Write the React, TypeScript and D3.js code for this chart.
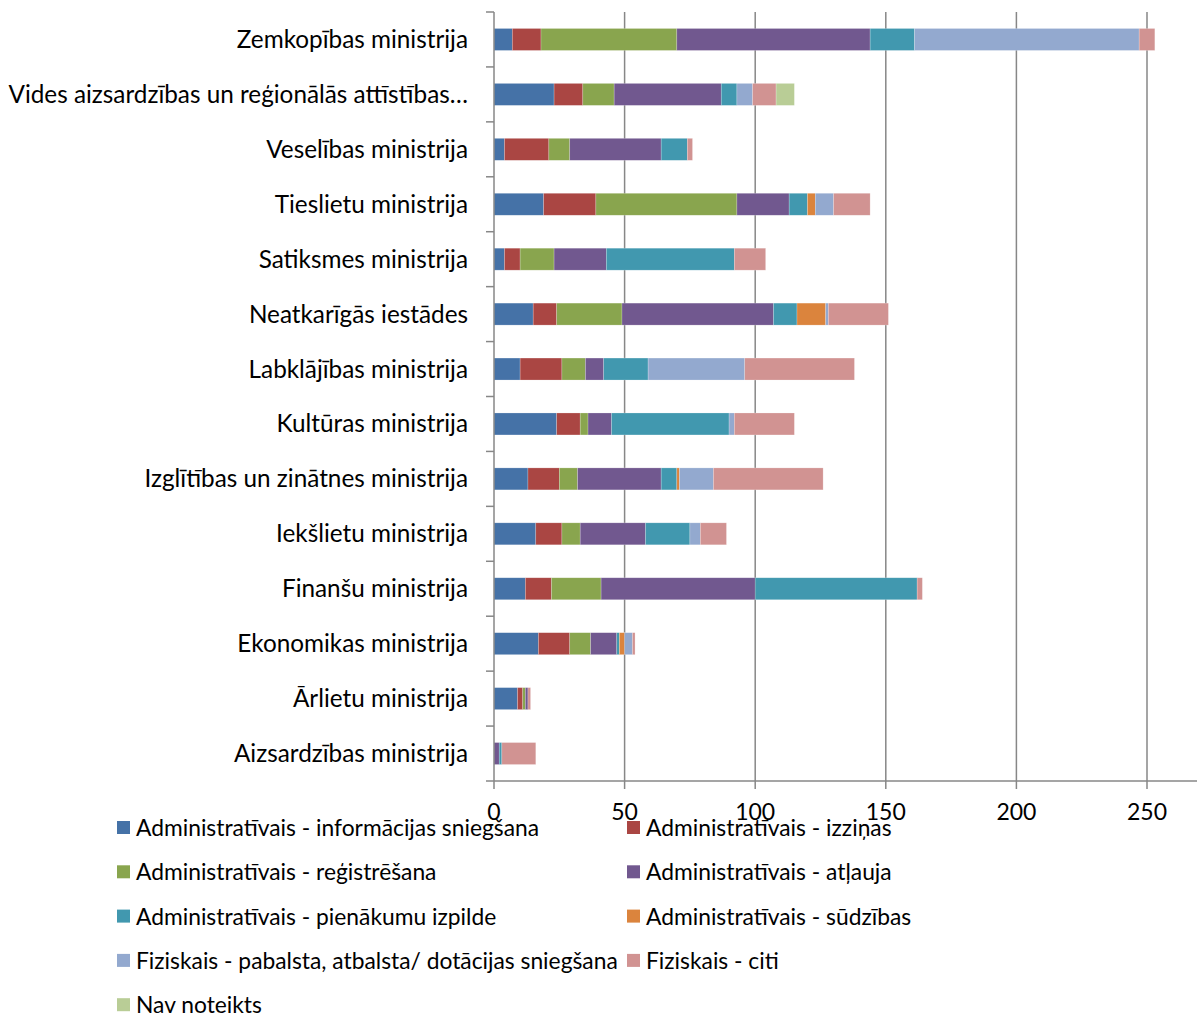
import { useEffect, useRef } from 'react';
import * as d3 from 'd3';

// Ministries, top to bottom as drawn
const CATEGORIES = [
  'Zemkopības ministrija',
  'Vides aizsardzības un reģionālās attīstības…',
  'Veselības ministrija',
  'Tieslietu ministrija',
  'Satiksmes ministrija',
  'Neatkarīgās iestādes',
  'Labklājības ministrija',
  'Kultūras ministrija',
  'Izglītības un zinātnes ministrija',
  'Iekšlietu ministrija',
  'Finanšu ministrija',
  'Ekonomikas ministrija',
  'Ārlietu ministrija',
  'Aizsardzības ministrija',
];

const SERIES_NAMES = [
  'Administratīvais - informācijas sniegšana',
  'Administratīvais - izziņas',
  'Administratīvais - reģistrēšana',
  'Administratīvais - atļauja',
  'Administratīvais - pienākumu izpilde',
  'Administratīvais - sūdzības',
  'Fiziskais - pabalsta, atbalsta/ dotācijas sniegšana',
  'Fiziskais - citi',
  'Nav noteikts',
];

const INFO = [7, 23, 4, 19, 4, 15, 10, 24, 13, 16, 12, 17, 9, 0];
const IZZINAS = [11, 11, 17, 20, 6, 9, 16, 9, 12, 10, 10, 12, 2, 0];
const REGISTRESANA = [52, 12, 8, 54, 13, 25, 9, 3, 7, 7, 19, 8, 1, 0];
const ATLAUJA = [74, 41, 35, 20, 20, 58, 7, 9, 32, 25, 59, 10, 1, 2];
const PIENAKUMI = [17, 6, 10, 7, 49, 9, 17, 45, 6, 17, 62, 1, 0, 1];
const SUDZIBAS = [0, 0, 0, 3, 0, 11, 0, 0, 1, 0, 0, 2, 0, 0];
const PABALSTS = [86, 6, 0, 7, 0, 1, 37, 2, 13, 4, 0, 3, 0, 0];
const CITI = [6, 9, 2, 14, 12, 23, 42, 23, 42, 10, 2, 1, 1, 13];
const NAV = [0, 7, 0, 0, 0, 0, 0, 0, 0, 0, 0, 0, 0, 0];

const X_TICKS = [0, 50, 100, 150, 200, 250];

// Excel 2007 default palette
const COLORS = ['#4572A7', '#AA4643', '#89A54E', '#71588F', '#4198AF', '#DB843D', '#93A9CF', '#D19392', '#B9CD96'];

const FONT = 'Lato, "Open Sans", sans-serif';
const W = 1197;
const H = 1016;

export default function App() {
  const svgRef = useRef<SVGSVGElement>(null);

  useEffect(() => {
    const svg = d3.select(svgRef.current);
    svg.selectAll('*').remove();

    const left = 494;
    const top = 12;
    const bottom = 781;

    const seriesValues = [INFO, IZZINAS, REGISTRESANA, ATLAUJA, PIENAKUMI, SUDZIBAS, PABALSTS, CITI, NAV];
    const rows = CATEGORIES.map((name, i) => {
      const row: Record<string, number | string> = { name };
      SERIES_NAMES.forEach((s, k) => { row[s] = seriesValues[k][i]; });
      return row;
    });
    const stacked = d3.stack<Record<string, number | string>>()
      .keys(SERIES_NAMES)
      .value((d, key) => d[key] as number)(rows);

    const x = d3.scaleLinear().domain([0, 250]).range([left, 1147]);
    const y = d3.scaleBand().domain(CATEGORIES).range([top, bottom]).paddingInner(0.6).paddingOuter(0.3);
    const yOuter = d3.scaleBand().domain(CATEGORIES).range([top, bottom]);

    // Vertical gridlines
    svg.append('g')
      .selectAll('line')
      .data(X_TICKS.slice(1))
      .join('line')
      .attr('x1', (d) => x(d)).attr('x2', (d) => x(d))
      .attr('y1', top).attr('y2', bottom)
      .attr('stroke', '#878787').attr('stroke-width', 1.5);

    // Stacked bars
    svg.append('g')
      .selectAll('g')
      .data(stacked)
      .join('g')
      .attr('fill', (_, i) => COLORS[i])
      .selectAll('rect')
      .data((s) => s.filter((d) => d[1] > d[0]))
      .join('rect')
      .attr('x', (d) => x(d[0]))
      .attr('width', (d) => x(d[1]) - x(d[0]))
      .attr('y', (d) => y(d.data.name as string)!)
      .attr('height', y.bandwidth())
      .attr('stroke', 'rgba(255,255,255,0.35)')
      .attr('stroke-width', 0.6);

    // Category axis
    svg.append('line')
      .attr('x1', left).attr('x2', left).attr('y1', top).attr('y2', bottom)
      .attr('stroke', '#878787').attr('stroke-width', 1.5);
    const bounds = CATEGORIES.map((c) => yOuter(c)!).concat([bottom]);
    svg.append('g')
      .selectAll('line')
      .data(bounds)
      .join('line')
      .attr('x1', left - 8).attr('x2', left)
      .attr('y1', (d) => d).attr('y2', (d) => d)
      .attr('stroke', '#878787').attr('stroke-width', 1.5);
    svg.append('g')
      .selectAll('text')
      .data(CATEGORIES)
      .join('text')
      .attr('x', 468)
      .attr('y', (d) => yOuter(d)! + yOuter.bandwidth() / 2)
      .attr('dy', '0.35em')
      .attr('text-anchor', 'end')
      .attr('font-family', FONT)
      .attr('font-size', 24.3)
      .attr('fill', '#000')
      .text((d) => d);

    // Value axis
    svg.append('line')
      .attr('x1', left).attr('x2', W).attr('y1', bottom).attr('y2', bottom)
      .attr('stroke', '#878787').attr('stroke-width', 1.5);
    svg.append('g')
      .selectAll('line')
      .data(X_TICKS)
      .join('line')
      .attr('x1', (d) => x(d)).attr('x2', (d) => x(d))
      .attr('y1', bottom).attr('y2', bottom + 8)
      .attr('stroke', '#878787').attr('stroke-width', 1.5);
    svg.append('g')
      .selectAll('text')
      .data(X_TICKS)
      .join('text')
      .attr('x', (d) => x(d))
      .attr('y', 820)
      .attr('text-anchor', 'middle')
      .attr('font-family', FONT)
      .attr('font-size', 23)
      .attr('fill', '#000')
      .text((d) => String(d));

    // Legend: two columns
    const legend = svg.append('g')
      .selectAll('g')
      .data(SERIES_NAMES)
      .join('g')
      .attr('transform', (_, i) => `translate(${i % 2 === 0 ? 117 : 627},${828 + Math.floor(i / 2) * 44.3})`);
    legend.append('rect')
      .attr('x', 0).attr('y', -7).attr('width', 13).attr('height', 13)
      .attr('fill', (_, i) => COLORS[i]);
    legend.append('text')
      .attr('x', 19)
      .attr('dy', '0.35em')
      .attr('font-family', FONT)
      .attr('font-size', 22.8)
      .attr('fill', '#000')
      .text((d) => d);
  }, []);

  return (
    <div style={{ position: 'absolute', left: 0, top: 0 }}>
      <svg ref={svgRef} width={W} height={H} style={{ display: 'block', background: '#fff' }} />
    </div>
  );
}
